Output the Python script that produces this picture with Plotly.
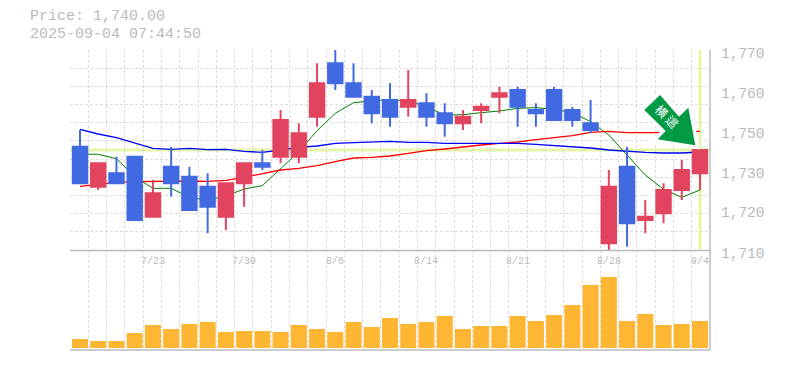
import numpy as np
import plotly.graph_objects as go

title_lines = ["Price: 1,740.00", "2025-09-04 07:44:50"]
opens = [1741,1729,1733,1738,1720,1735,1732,1729,1720,1730,1736,1738,1738,1750,1766,1760,1756,1755,1753,1754,1751,1748,1752,1756,1758,1752,1758,1752,1748,1712,1735,1719,1721,1728,1733]
highs = [1746,1736,1738,1738,1731,1741,1735,1733,1730,1736,1740,1752,1748,1766,1770,1766,1758,1760,1764,1757,1754,1752,1754,1759,1759,1754,1759,1753,1755,1734,1741,1725,1730,1737,1740]
lows = [1730,1728,1730,1719,1720,1726,1722,1715,1716,1723,1734,1736,1736,1747,1758,1756,1748,1747,1750,1747,1744,1746,1748,1751,1747,1747,1749,1747,1745,1710,1711,1715,1718,1725,1728]
closes = [1730,1736,1730,1719,1727,1730,1722,1723,1730,1736,1735,1749,1745,1760,1760,1756,1751,1750,1755,1750,1748,1750,1753,1757,1753,1751,1749,1749,1746,1729,1718,1720,1728,1734,1740]
ma_short = [1738.8,1738.7,1737.4,1732,1728.5,1728.5,1725.8,1724.9,1726.2,1728.3,1729.3,1734.5,1739.5,1745.8,1751,1754.2,1754.6,1755.2,1754.7,1753,1750.5,1750.6,1751.2,1751.7,1752.5,1752.7,1752.2,1751.2,1748.5,1744.5,1738.5,1732.5,1728.2,1725.8,1728]
ma_mid = [1729.1,1729.7,1730.3,1730.5,1730.6,1730.7,1730.7,1730.6,1730.9,1731.8,1733,1734,1734.5,1735.3,1736.5,1737.6,1737.8,1738.2,1739,1739.8,1740.3,1741,1741.5,1742,1742.4,1743.1,1743.7,1744.3,1745.3,1745.6,1745.2,1745.1,1745.2,1745.4,1745.6]
ma_long = [1746.2,1744.8,1743.7,1742.1,1740.5,1740.2,1740.5,1740.1,1740.2,1739.6,1739.3,1740,1740.8,1741.2,1742,1742.2,1742.4,1742.6,1742.3,1742.3,1742,1742,1742,1742,1742,1741.7,1741.4,1741,1740.6,1740,1739.6,1739.3,1739.1,1739.1,1739.4]
volumes = [9,7,7,15,23,19,24,26,16,17,17,16,23,19,16,26,21,30,24,26,32,19,22,22,32,27,33,43,63,71,27,34,23,24,27]
date_labels = {4:"7/23",9:"7/30",14:"8/6",19:"8/14",24:"8/21",29:"8/28",34:"9/4"}
price_labels = ["1,770","1,760","1,750","1,730","1,720","1,710"]
price_label_rows = [53.5,93.5,133.5,173.5,213.5,253.5]
last_price = 1740
arrow_text = "横 這"

W, H = 785, 370
L, R, T, B = 70, 710, 50, 350
def px(x): return (x - L) / (R - L)
def py(y): return (B - y) / (B - T)

idx = list(range(len(closes)))
x_range = [-0.548, 34.548]
grid_x = list(np.linspace(x_range[0], x_range[1], 36))
grid_y = list(np.linspace(1710, 1770, 12))
GRID = "#dddddd"
AXIS = "#bbbbbb"
TEXT = "#bbbbbb"
RED = "#e2445f"
BLUE = "#4169e1"
PALE = "#e6f6a8"

fig = go.Figure()
fig.add_trace(go.Scatter(x=idx, y=ma_short, mode="lines", line=dict(color="#008000", width=1), yaxis="y", xaxis="x"))
fig.add_trace(go.Scatter(x=idx, y=ma_mid, mode="lines", line=dict(color="#ff0000", width=1.3), yaxis="y", xaxis="x"))
fig.add_trace(go.Scatter(x=idx, y=ma_long, mode="lines", line=dict(color="#0000ff", width=1.3), yaxis="y", xaxis="x"))
fig.add_trace(go.Candlestick(x=idx, open=opens, high=highs, low=lows, close=closes,
    increasing=dict(line=dict(color=RED, width=2), fillcolor=RED),
    decreasing=dict(line=dict(color=BLUE, width=2), fillcolor=BLUE),
    whiskerwidth=0, yaxis="y3", xaxis="x"))
fig.add_trace(go.Bar(x=idx, y=volumes, width=0.88, marker=dict(color="#ffb733", line=dict(width=0)), yaxis="y2", xaxis="x"))

annotations = []
for t, yp in zip(title_lines, [17, 34]):
    annotations.append(dict(text=t, xref="paper", yref="paper", x=px(28), y=py(yp), xanchor="left", yanchor="middle",
                            showarrow=False, font=dict(family="Liberation Mono", size=15, color=TEXT)))
for i, t in date_labels.items():
    annotations.append(dict(text=t, xref="x", yref="paper", x=i, y=py(261), xanchor="center", yanchor="middle",
                            showarrow=False, font=dict(family="Liberation Mono", size=10, color=TEXT)))
for t, p in zip(price_labels, price_label_rows):
    annotations.append(dict(text=t, xref="paper", yref="paper", x=px(719), y=py(p), xanchor="left", yanchor="middle",
                            showarrow=False, font=dict(family="Liberation Mono", size=14.5, color=TEXT)))

arrow_pts = [(660,95),(679,116.7),(688.3,107.7),(695.3,145.3),(657.7,139.3),(665.7,131),(644.3,110)]
arrow_path = "M " + " L ".join(f"{px(a):.4f} {py(b):.4f}" for a, b in arrow_pts) + " Z"

shapes = [
    dict(type="line", xref="paper", yref="y", x0=0, x1=1, y0=last_price, y1=last_price, layer="below", line=dict(color=PALE, width=3)),
    dict(type="line", xref="x", yref="paper", x0=34, x1=34, y0=py(50), y1=py(249), layer="below", line=dict(color=PALE, width=3)),
    dict(type="line", xref="paper", yref="paper", x0=0, x1=1, y0=py(250.5), y1=py(250.5), line=dict(color=AXIS, width=1.5)),
    dict(type="line", xref="paper", yref="paper", x0=0, x1=1, y0=py(350), y1=py(350), line=dict(color=AXIS, width=1.5)),
    dict(type="line", xref="paper", yref="paper", x0=1, x1=1, y0=0, y1=1, line=dict(color=AXIS, width=1.5)),
    dict(type="path", xref="paper", yref="paper", path=arrow_path, fillcolor="#ffffff", line=dict(color="#ffffff", width=7)),
    dict(type="path", xref="paper", yref="paper", path=arrow_path, fillcolor="#009944", line=dict(width=0)),
    dict(type="rect", xref="paper", yref="paper", x0=px(651), x1=px(681), y0=py(132.5), y1=py(102.5),
         fillcolor="rgba(0,0,0,0)", line=dict(width=0),
         label=dict(text=arrow_text, textangle=45, textposition="middle center",
                    font=dict(family="Noto Sans CJK JP", size=12, color="#ffffff"))),
]

fig.update_layout(
    width=W, height=H, autosize=False, showlegend=False,
    margin=dict(l=L, r=W-R, t=T, b=H-B, pad=0),
    paper_bgcolor="#ffffff", plot_bgcolor="#ffffff",
    boxgap=0.21, boxgroupgap=0, barmode="overlay",
    annotations=annotations, shapes=shapes,
    xaxis=dict(range=x_range, anchor="y2", rangeslider=dict(visible=False), showticklabels=False, ticks="",
               tickmode="array", tickvals=grid_x, showgrid=True, gridcolor=GRID, griddash="3px,2px", gridwidth=1, zeroline=False, showline=False),
    yaxis=dict(domain=[1/3, 1], range=[1710, 1770], tickmode="array", tickvals=grid_y, showticklabels=False, ticks="",
               showgrid=True, gridcolor=GRID, griddash="3px,2px", gridwidth=1, zeroline=False),
    yaxis3=dict(overlaying="y", range=[1710, 1770], showticklabels=False, ticks="", showgrid=False, zeroline=False, anchor="x"),
    yaxis2=dict(domain=[0, 1/3], range=[-2, 98], showticklabels=False, ticks="", showgrid=False, zeroline=False, anchor="x"),
)
fig.write_html("out.html", post_script="document.body.style.margin='0';", config={"displayModeBar": False})
